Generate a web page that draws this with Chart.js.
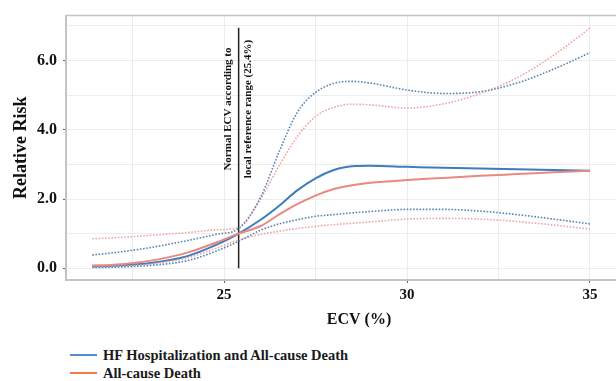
<!DOCTYPE html>
<html>
<head>
<meta charset="utf-8">
<script src="https://cdn.jsdelivr.net/npm/chart.js@4.4.1/dist/chart.umd.min.js"></script>
<style>
  html, body { margin: 0; padding: 0; background: #fff; }
  #wrap { position: relative; width: 616px; height: 381px; overflow: hidden; }
  #plot { display: block; }
  #legend { position: absolute; left: 70px; top: 346px; font: bold 14.5px "Liberation Serif", "Times New Roman", serif; color: #1a1a1a; }
  #legend .item { height: 18px; line-height: 18px; display: flex; align-items: center; white-space: nowrap; }
  #legend .swatch { display: inline-block; width: 27px; height: 2px; margin-right: 6px; }
</style>
</head>
<body>
<div id="wrap">
  <canvas id="plot" width="652" height="330"></canvas>
  <div id="legend"></div>
</div>
<script>
// ECV grid (%) and estimated relative risk curves with 95% CI
const ecv = [21.4, 22, 23, 24, 24.8, 25.4, 26, 26.5, 27, 27.5, 28, 28.5, 29, 30, 31, 32, 33, 34, 35];

const hfRisk     = [0.05, 0.07, 0.15, 0.35, 0.68, 1.0, 1.4, 1.8, 2.25, 2.6, 2.84, 2.95, 2.96, 2.93, 2.9, 2.88, 2.86, 2.84, 2.82];
const hfUpper    = [0.38, 0.45, 0.6, 0.8, 0.98, 1.15, 2.05, 3.35, 4.5, 5.08, 5.34, 5.4, 5.35, 5.15, 5.05, 5.1, 5.35, 5.75, 6.23];
const hfLower    = [0.02, 0.03, 0.08, 0.22, 0.5, 0.78, 1.1, 1.28, 1.4, 1.5, 1.55, 1.6, 1.64, 1.7, 1.7, 1.65, 1.55, 1.42, 1.28];

const deathRisk  = [0.08, 0.1, 0.22, 0.45, 0.75, 1.0, 1.22, 1.55, 1.85, 2.1, 2.29, 2.4, 2.47, 2.55, 2.61, 2.67, 2.72, 2.77, 2.82];
const deathUpper = [0.85, 0.88, 0.95, 1.03, 1.11, 1.17, 2.0, 2.95, 3.8, 4.38, 4.65, 4.74, 4.72, 4.63, 4.75, 5.05, 5.5, 6.15, 6.94];
const deathLower = [0.03, 0.05, 0.12, 0.3, 0.58, 0.82, 0.98, 1.07, 1.15, 1.21, 1.26, 1.3, 1.34, 1.42, 1.44, 1.42, 1.35, 1.25, 1.13];

// reference cut-off line
const refEcv = 25.4;
const refTop = 6.95;
const refText = ['Normal ECV according to', 'local reference range (25.4%)'];

const xTicks = [22.5, 25, 27.5, 30, 32.5, 35];
const yTicks = [0, 1, 2, 3, 4, 5, 6, 7];

const legendItems = [
  { label: 'HF Hospitalization and All-cause Death', color: '#4f8fd0' },
  { label: 'All-cause Death', color: '#ef7b48' }
];

const serif = '"Liberation Serif", "Times New Roman", serif';

const toPoints = ys => ys.map((y, i) => ({ x: ecv[i], y }));

const curve = (label, ys, color, dotted) => ({
  label,
  data: toPoints(ys),
  borderColor: color,
  borderWidth: dotted ? 1.6 : 2,
  borderDash: dotted ? [1.6, 1.6] : [],
  pointRadius: 0,
  cubicInterpolationMode: 'monotone',
  fill: false
});

// panel border + rotated note next to the cut-off line
const panelExtras = {
  id: 'panelExtras',
  afterDraw(chart) {
    const { ctx, chartArea, scales } = chart;
    ctx.save();
    ctx.strokeStyle = '#c4c4c4';
    ctx.lineWidth = 1.5;
    ctx.beginPath();
    ctx.moveTo(chartArea.left, chartArea.top);
    ctx.lineTo(chartArea.right, chartArea.top);
    ctx.stroke();

    const xc = scales.x.getPixelForValue(refEcv);
    const yc = scales.y.getPixelForValue(4.6);
    ctx.fillStyle = '#111';
    ctx.font = 'bold 11px ' + serif;
    ctx.textAlign = 'center';
    ctx.textBaseline = 'middle';
    [-10, 10].forEach((dx, i) => {
      ctx.save();
      ctx.translate(xc + dx, yc);
      ctx.rotate(-Math.PI / 2);
      ctx.fillText(refText[i], 0, 0);
      ctx.restore();
    });
    ctx.restore();
  }
};

const chart = new Chart(document.getElementById('plot'), {
  type: 'line',
  data: {
    datasets: [
      curve('HF upper', hfUpper, '#5b86b3', true),
      curve('HF lower', hfLower, '#5b86b3', true),
      curve('Death upper', deathUpper, '#f2a3a3', true),
      curve('Death lower', deathLower, '#f2a3a3', true),
      curve('All-cause Death', deathRisk, '#ea8882', false),
      curve('HF Hospitalization and All-cause Death', hfRisk, '#3b7dbd', false),
      {
        label: 'Reference',
        data: [{ x: refEcv, y: 0 }, { x: refEcv, y: refTop }],
        borderColor: '#222',
        borderWidth: 1.5,
        pointRadius: 0
      }
    ]
  },
  options: {
    responsive: false,
    animation: false,
    layout: { padding: { top: 10, left: 0, right: 0, bottom: 0 } },
    plugins: {
      legend: { display: false },
      tooltip: { enabled: false }
    },
    scales: {
      x: {
        type: 'linear',
        min: 20.683,
        max: 36.694,
        afterBuildTicks: s => { s.ticks = xTicks.map(v => ({ value: v })); },
        afterFit: s => { s.height = 50; },
        grid: {
          color: '#ececec',
          lineWidth: 1,
          tickLength: 3,
          tickColor: c => (c.tick && c.tick.value % 5 === 0 ? '#666' : 'rgba(0,0,0,0)')
        },
        border: { color: '#c4c4c4', width: 2 },
        ticks: {
          padding: 3,
          maxRotation: 0,
          color: '#111',
          font: { family: serif, size: 15, weight: 'bold' },
          callback: v => (v % 5 === 0 ? String(v) : '')
        },
        title: {
          display: true,
          text: 'ECV (%)',
          color: '#111',
          font: { family: serif, size: 16, weight: 'bold' },
          padding: { top: 0, bottom: 1 }
        }
      },
      y: {
        type: 'linear',
        min: -0.34,
        max: 7.3,
        afterBuildTicks: s => { s.ticks = yTicks.map(v => ({ value: v })); },
        afterFit: s => { s.width = 66; },
        grid: {
          color: '#ececec',
          lineWidth: 1,
          tickLength: 3,
          tickColor: c => (c.tick && c.tick.value % 2 === 0 ? '#666' : 'rgba(0,0,0,0)')
        },
        border: { color: '#c4c4c4', width: 2 },
        ticks: {
          padding: 6,
          color: '#111',
          font: { family: serif, size: 16, weight: 'bold' },
          callback: v => (v % 2 === 0 ? v.toFixed(1) : '')
        },
        title: {
          display: true,
          text: 'Relative Risk',
          color: '#111',
          font: { family: serif, size: 18, weight: 'bold' },
          padding: { top: 11, bottom: 0 }
        }
      }
    }
  },
  plugins: [panelExtras]
});

// legend rows under the panel
const legendBox = document.getElementById('legend');
legendItems.forEach(item => {
  const row = document.createElement('div');
  row.className = 'item';
  const sw = document.createElement('span');
  sw.className = 'swatch';
  sw.style.background = item.color;
  row.appendChild(sw);
  row.appendChild(document.createTextNode(item.label));
  legendBox.appendChild(row);
});
</script>
</body>
</html>
